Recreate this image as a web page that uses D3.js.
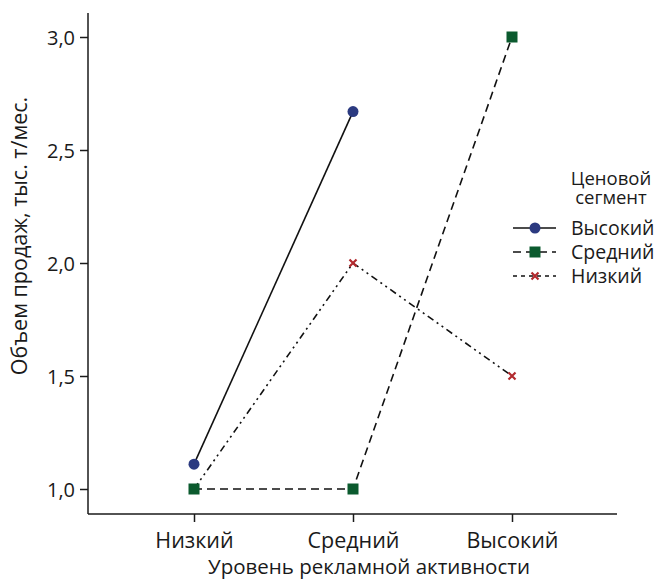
<!DOCTYPE html>
<html>
<head>
<meta charset="utf-8">
<script src="https://cdn.jsdelivr.net/npm/d3@7"></script>
<style>
  body { margin: 0; background: #fff; }
  text { font-family: "Open Sans", sans-serif; fill: #1a1a1a; }
</style>
</head>
<body>
<div id="chart"></div>
<script>
// Data
const categories = ["Низкий", "Средний", "Высокий"];
const seriesNames = ["Высокий", "Средний", "Низкий"];
const highValues = [1.11, 2.67, null];
const midValues = [1.0, 1.0, 3.0];
const lowValues = [1.0, 2.0, 1.5];
const yTicks = [1.0, 1.5, 2.0, 2.5, 3.0];

const width = 657, height = 580;

const svg = d3.select("#chart").append("svg")
    .attr("width", width)
    .attr("height", height);

// Scales
const x = d3.scalePoint()
    .domain(categories)
    .range([194, 512]);

const y = d3.scaleLinear()
    .domain([1.0, 3.0])
    .range([489, 37]);

const axisY0 = 514, axisX0 = 88;

// Axes
const xAxis = svg.append("g")
    .attr("transform", `translate(0,${axisY0})`)
    .call(d3.axisBottom(x).tickSize(8).tickSizeOuter(0));
xAxis.select(".domain").attr("d", `M${axisX0},0H617`);

const yAxis = svg.append("g")
    .attr("transform", `translate(${axisX0},0)`)
    .call(d3.axisLeft(y).tickValues(yTicks).tickSize(8).tickSizeOuter(0)
        .tickFormat(d => d3.format(".1f")(d).replace(".", ",")));
yAxis.select(".domain").attr("d", `M0,13V${axisY0}`);

svg.selectAll(".domain, .tick line").attr("stroke", "#1a1a1a").attr("stroke-width", 1.5);
xAxis.selectAll(".tick text").attr("y", 34).attr("dy", null).style("font-size", "21.5px");
yAxis.selectAll(".tick text").attr("x", -13).attr("dy", "0.36em").style("font-size", "20px");

// Axis titles
svg.append("text")
    .attr("x", 369)
    .attr("y", 574)
    .attr("text-anchor", "middle")
    .style("font-size", "20.5px")
    .text("Уровень рекламной активности");

svg.append("text")
    .attr("transform", `translate(27,236) rotate(-90)`)
    .attr("text-anchor", "middle")
    .style("font-size", "21.5px")
    .text("Объем продаж, тыс. т/мес.");

// Series
const series = [
    { name: seriesNames[0], values: highValues, dash: null, legendDash: null, color: "#2b3a80", shape: "circle" },
    { name: seriesNames[1], values: midValues, dash: "8,5", legendDash: "8,5", color: "#0b5a2e", shape: "square" },
    { name: seriesNames[2], values: lowValues, dash: "7,4,2,4,2,4", legendDash: "4,4", color: "#b22a2e", shape: "cross" }
];

const line = d3.line()
    .defined(d => d.v != null)
    .x(d => x(d.c))
    .y(d => y(d.v));

function drawMarker(g, s, cx, cy) {
    if (s.shape === "circle") {
        g.append("circle").attr("cx", cx).attr("cy", cy).attr("r", 5.5).attr("fill", s.color);
    } else if (s.shape === "square") {
        g.append("rect").attr("x", cx - 5.5).attr("y", cy - 5.5).attr("width", 11).attr("height", 11).attr("fill", s.color);
    } else {
        const r = 3.5;
        g.append("path")
            .attr("d", `M${cx - r},${cy - r}L${cx + r},${cy + r}M${cx - r},${cy + r}L${cx + r},${cy - r}`)
            .attr("stroke", s.color).attr("stroke-width", 2.2).attr("fill", "none");
    }
}

// lines: low, mid, high
[series[2], series[1], series[0]].forEach(s => {
    const pts = categories.map((c, i) => ({ c: c, v: s.values[i] }));
    svg.append("path")
        .datum(pts)
        .attr("d", line)
        .attr("fill", "none")
        .attr("stroke", "#111")
        .attr("stroke-width", 1.6)
        .attr("stroke-dasharray", s.dash);
});
// markers, squares on top
[series[2], series[0], series[1]].forEach(s => {
    const g = svg.append("g");
    s.values.forEach((v, i) => {
        if (v != null) drawMarker(g, s, x(categories[i]), y(v));
    });
});

// Legend
const legend = svg.append("g");
legend.append("text").attr("x", 611).attr("y", 185).attr("text-anchor", "middle")
    .style("font-size", "18.5px").text("Ценовой");
legend.append("text").attr("x", 611).attr("y", 204).attr("text-anchor", "middle")
    .style("font-size", "18.5px").text("сегмент");

const legendY = [228, 252, 276];
series.forEach((s, i) => {
    const ly = legendY[i];
    legend.append("path")
        .attr("d", `M513,${ly}H556`)
        .attr("stroke", "#111")
        .attr("stroke-width", 1.6)
        .attr("stroke-dasharray", s.legendDash);
    drawMarker(legend, s, 535, ly);
    legend.append("text").attr("x", 571).attr("y", ly).attr("dy", "0.36em")
        .style("font-size", "19.5px").text(s.name);
});
</script>
</body>
</html>
